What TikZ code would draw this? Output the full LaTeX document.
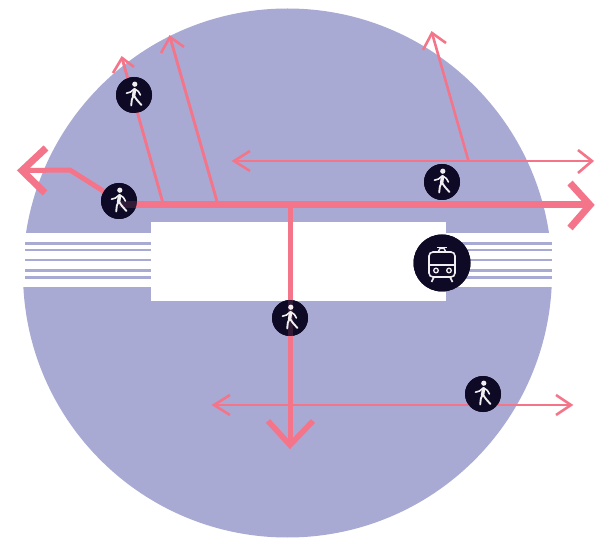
\documentclass[tikz,border=0pt]{standalone}
\usetikzlibrary{calc}
\definecolor{disc}{HTML}{A8AAD4}
\definecolor{route}{HTML}{F4758A}
\definecolor{ink}{HTML}{0E0A26}
\definecolor{icon}{HTML}{F0EEF0}
\tikzset{
  x=1pt,y=-1pt,
  thinroute/.style={draw=route,line width=2.6pt},
  midroute/.style={draw=route,line width=2.9pt},
  fatroute/.style={draw=route,line width=7pt},
  spine/.style={draw=route,line width=5pt},
  track/.style={draw=disc,line width=2.4pt},
  badge/.style={circle,fill=ink,inner sep=0pt,minimum size=36pt},
  pedestrian/.pic={
    \fill[icon] (0.8,-10.8) circle (2.6);
    \draw[icon,line width=3.4pt,line cap=round,line join=round] (0.6,-5.5) -- (-0.4,1);
    \draw[icon,line width=1.9pt,line cap=round,line join=round] (-0.6,0.5) -- (-2.2,5) -- (-2.8,10.5);
    \draw[icon,line width=1.9pt,line cap=round,line join=round] (-0.2,0.5) -- (3,5) -- (7.4,10);
    \draw[icon,line width=1.6pt,line cap=round,line join=round] (0.2,-6) -- (-3.5,-3) -- (-7.5,-1.8);
    \draw[icon,line width=1.6pt,line cap=round,line join=round] (0.8,-6) -- (4.4,-3.5) -- (6.4,0);
  },
  trainicon/.pic={
    \draw[icon,line width=1.6pt,rounded corners=4pt] (-13,-11) rectangle (13,14);
    \draw[icon,line width=1.6pt] (-13,2) -- (13,2);
    \draw[icon,line width=1.4pt] (-4,-11) -- (-2,-14.5) -- (2,-14.5) -- (4,-11);
    \draw[icon,line width=1.8pt] (-5,-15.5) -- (5,-15.5);
    \draw[icon,line width=1.3pt] (-6,7.5) circle (2.3);
    \draw[icon,line width=1.3pt] (7,7.5) circle (2.3);
    \draw[icon,line width=1.6pt] (-8,14) -- (-10.5,19);
    \draw[icon,line width=1.6pt] (8,14) -- (10.5,19);
  }
}
\begin{document}
\begin{tikzpicture}
\useasboundingbox (0,0) rectangle (595,540);
\fill[white] (0,0) rectangle (595,540);
% disc and station
\fill[disc] (287.5,273) circle (264.5);
\fill[white] (15,233) rectangle (560,287.5);
\fill[white] (150.5,222) rectangle (445.5,301);
\foreach \yy in {243.7,250.3,260.3,270.7,277.7}{
  \draw[track] (25,\yy) -- (150.5,\yy);
  \draw[track] (445.5,\yy) -- (552,\yy);
}
% junction and end coordinates
\coordinate (mainL) at (119,205);
\coordinate (mainR) at (590,205);
\coordinate (bendW) at (70,170);
\coordinate (tipW) at (22,170.5);
\coordinate (j1) at (163.5,205);
\coordinate (j2) at (218,205);
\coordinate (j3) at (290,205);
\coordinate (tipN1) at (122,58);
\coordinate (tipN2) at (170,37);
\coordinate (tipN3) at (432,33);
\coordinate (j4) at (468.5,161);
\coordinate (upL) at (234,161);
\coordinate (upR) at (592,161);
\coordinate (lowL) at (214,405);
\coordinate (lowR) at (571,405);
\coordinate (j5) at (290,405);
\coordinate (tipS) at (290,445);
% badge positions
\node[badge] (p1) at (119,201) {};
\node[badge] (p2) at (134,95) {};
\node[badge] (p3) at (442,182) {};
\node[badge] (p4) at (290,318) {};
\node[badge] (p5) at (483,394) {};
\node[badge,minimum size=57pt] (tr) at (442,263) {};
% connectors
\draw[midroute] (j1) -- (tipN1);
\draw[midroute] (j2) -- (tipN2);
\draw[thinroute] (j4) -- (tipN3);
\draw[thinroute] (upL) -- (upR);
\draw[thinroute] (lowL) -- (lowR);
\draw[fatroute] (mainL) -- (mainR);
\draw[spine] (j3) -- (tipS);
\draw[spine,line join=round] (p1.center) -- (bendW) -- (tipW);
% arrowheads
\draw[fatroute,line join=miter] (46,148) -- (tipW) -- (45,193);
\draw[fatroute,line join=miter] (570,183) -- (mainR) -- (570,228);
\draw[spine,line width=5.6pt] (268,421) -- (tipS) -- (313,421);
\draw[thinroute] (113,73) -- (tipN1) -- (134,67);
\draw[thinroute] (161,53) -- (tipN2) -- (184,47);
\draw[thinroute] (423,50) -- (tipN3) -- (446,43);
\draw[thinroute] (250,151) -- (upL) -- (250,171);
\draw[thinroute] (578,150) -- (upR) -- (578,173);
\draw[thinroute] (230,395) -- (lowL) -- (230,415);
\draw[thinroute] (556,395) -- (lowR) -- (556,415);
% badges on top, with the routes faintly showing through
\foreach \nn in {p1,p2,p3,p4,p5}{
  \fill[ink] (\nn) circle (18);
}
\fill[ink] (tr) circle (28.5);
\begin{scope}
  \clip (p1) circle (18);
  \draw[route,opacity=.16,line width=7pt] (mainL) -- (mainR);
\end{scope}
\begin{scope}
  \clip (p4) circle (18);
  \draw[route,opacity=.16,line width=5pt] (j3) -- (tipS);
\end{scope}
\foreach \nn in {p1,p2,p3,p4,p5}{
  \pic at (\nn) {pedestrian};
}
\pic at (tr) {trainicon};
\end{tikzpicture}
\end{document}
